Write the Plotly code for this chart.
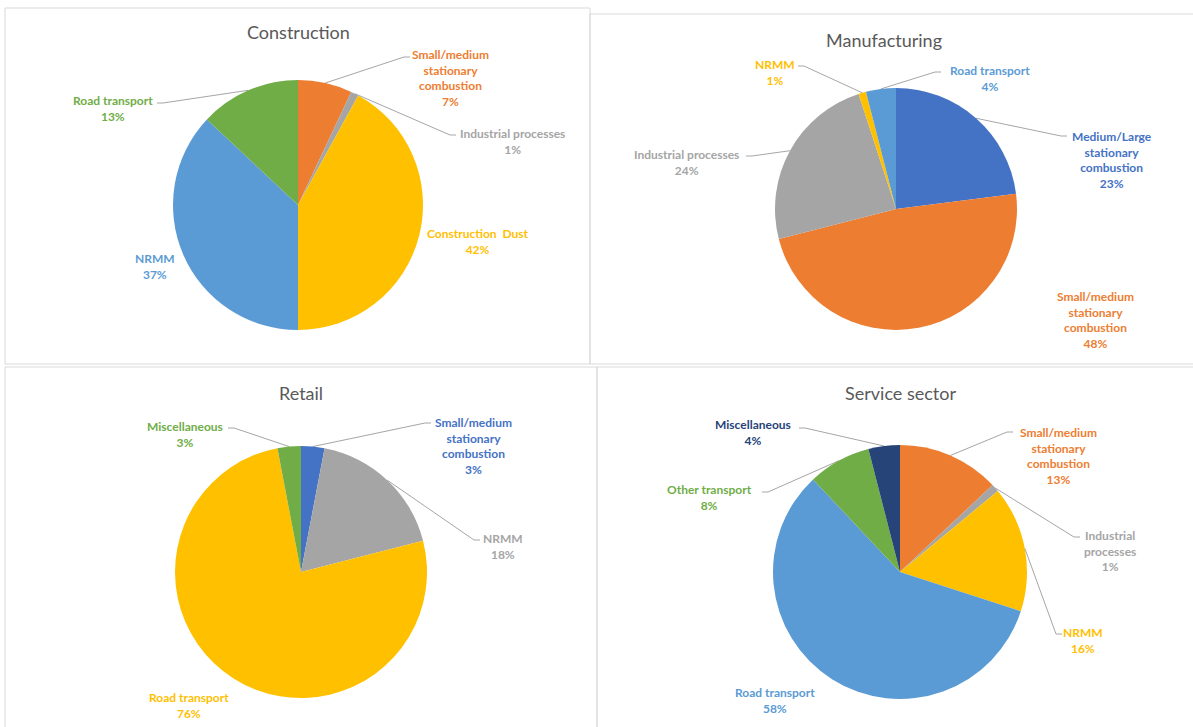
import math
import plotly.graph_objects as go

W, H = 1193, 727

# ---- data -----------------------------------------------------------------
construction_labels = ["Small/medium stationary combustion", "Industrial processes",
                       "Construction Dust", "NRMM", "Road transport"]
construction_values = [7, 1, 42, 37, 13]

manufacturing_labels = ["Medium/Large stationary combustion", "Small/medium stationary combustion",
                        "Industrial processes", "NRMM", "Road transport"]
manufacturing_values = [23, 48, 24, 1, 4]

retail_labels = ["Small/medium stationary combustion", "NRMM", "Road transport", "Miscellaneous"]
retail_values = [3, 18, 76, 3]

service_labels = ["Small/medium stationary combustion", "Industrial processes", "NRMM",
                  "Road transport", "Other transport", "Miscellaneous"]
service_values = [13, 1, 16, 58, 8, 4]

# ---- styling --------------------------------------------------------------
BLUE, ORANGE, GREY, GOLD = "#4472C4", "#ED7D31", "#A5A5A5", "#FFC000"
LBLUE, GREEN, NAVY = "#5B9BD5", "#70AD47", "#264478"
LEADER = "#A6A6A6"
FONT = "Lato"

construction_colors = [ORANGE, GREY, GOLD, LBLUE, GREEN]
manufacturing_colors = [BLUE, ORANGE, GREY, GOLD, LBLUE]
retail_colors = [BLUE, GREY, GOLD, GREEN]
service_colors = [ORANGE, GREY, GOLD, LBLUE, GREEN, NAVY]

# label display text (line-broken) per slice
construction_text = ["Small/medium<br>stationary<br>combustion", "Industrial processes",
                     "Construction  Dust", "NRMM", "Road transport"]
manufacturing_text = ["Medium/Large<br>stationary<br>combustion", "Small/medium<br>stationary<br>combustion",
                      "Industrial processes", "NRMM", "Road transport"]
retail_text = ["Small/medium<br>stationary<br>combustion", "NRMM", "Road transport", "Miscellaneous"]
service_text = ["Small/medium<br>stationary<br>combustion", "Industrial<br>processes", "NRMM",
                "Road transport", "Other transport", "Miscellaneous"]

# label placement in pixels: (centre x, centre y, leader attach point or None, tail direction)
construction_pos = [(450, 78, (410, 57), 1), (512, 141, (456, 135), 1), (478, 241, None, 0),
                    (155, 266, None, 0), (113, 108, (157, 103), -1)]
manufacturing_pos = [(1112, 160, (1067, 136), 1), (1095, 320, None, 0), (686, 162, (746, 156), -1),
                     (775, 72, (798, 66), -1), (990, 78, (941, 72), 1)]
retail_pos = [(473, 446, (431, 423), 1), (503, 546, (480, 540), 1), (189, 705, None, 0),
              (185, 434, (228, 428), -1)]
service_pos = [(1058, 456, (1013, 432), 1), (1110, 551, (1080, 537), 1), (1083, 640, (1062, 634), 1),
               (775, 700, None, 0), (709, 497, (762, 492), -1), (753, 432, (799, 428), -1)]

charts = [
    dict(title="Construction", tpos=(298, 32), center=(298, 205), r=125,
         labels=construction_labels, values=construction_values, colors=construction_colors,
         text=construction_text, pos=construction_pos),
    dict(title="Manufacturing", tpos=(884, 40), center=(896, 209), r=121,
         labels=manufacturing_labels, values=manufacturing_values, colors=manufacturing_colors,
         text=manufacturing_text, pos=manufacturing_pos),
    dict(title="Retail", tpos=(301, 393), center=(301, 572), r=126,
         labels=retail_labels, values=retail_values, colors=retail_colors,
         text=retail_text, pos=retail_pos),
    dict(title="Service sector", tpos=(900, 393), center=(900, 572), r=127,
         labels=service_labels, values=service_values, colors=service_colors,
         text=service_text, pos=service_pos),
]

# panel frames (pixel boxes)
panels = [(5, 8, 590, 364), (590, 14, 1200, 364), (5, 367, 597, 740), (597, 367, 1200, 740)]

fig = go.Figure()
annotations = []
shapes = []

for x0, y0, x1, y1 in panels:
    shapes.append(dict(type="rect", xref="x", yref="y", x0=x0, y0=y0, x1=x1, y1=y1,
                       line=dict(color="#D9D9D9", width=1), fillcolor="rgba(0,0,0,0)", layer="below"))

for ch in charts:
    cx, cy = ch["center"]
    r = ch["r"]
    fig.add_trace(go.Pie(
        labels=ch["labels"], values=ch["values"], sort=False, direction="clockwise",
        rotation=0, textinfo="none", hoverinfo="label+percent", showlegend=False,
        marker=dict(colors=ch["colors"], line=dict(width=0)),
        domain=dict(x=[(cx - r) / W, (cx + r) / W], y=[1 - (cy + r) / H, 1 - (cy - r) / H]),
    ))
    annotations.append(dict(text=ch["title"], x=ch["tpos"][0], y=ch["tpos"][1], xref="x", yref="y",
                            showarrow=False, font=dict(family=FONT, size=18, color="#595959")))

    total = sum(ch["values"])
    cum = 0
    for val, txt, col, (lx, ly, attach, tail) in zip(ch["values"], ch["text"], ch["colors"], ch["pos"]):
        mid = (cum + val / 2) / total * 2 * math.pi
        cum += val
        pct = round(val / total * 100)
        annotations.append(dict(text=f"<b>{txt}<br>{pct}%</b>", x=lx, y=ly, xref="x", yref="y",
                                showarrow=False, align="center",
                                font=dict(family=FONT, size=12, color=col)))
        if attach is not None:
            # leader from the slice's outer edge at its mid-angle to the label
            ex = cx + r * math.sin(mid)
            ey = cy - r * math.cos(mid)
            ax, ay = attach
            bx = ax - 6 * tail
            fig.add_trace(go.Scatter(x=[ex, bx, ax], y=[ey, ay, ay], mode="lines",
                                     line=dict(color=LEADER, width=1), hoverinfo="skip",
                                     showlegend=False, xaxis="x", yaxis="y"))

fig.update_layout(
    width=W, height=H, margin=dict(l=0, r=0, t=0, b=0),
    paper_bgcolor="white", plot_bgcolor="white",
    xaxis=dict(range=[0, W], visible=False, domain=[0, 1], fixedrange=True),
    yaxis=dict(range=[H, 0], visible=False, domain=[0, 1], fixedrange=True),
    annotations=annotations, shapes=shapes,
    font=dict(family=FONT),
)

fig.write_html("out.html")
